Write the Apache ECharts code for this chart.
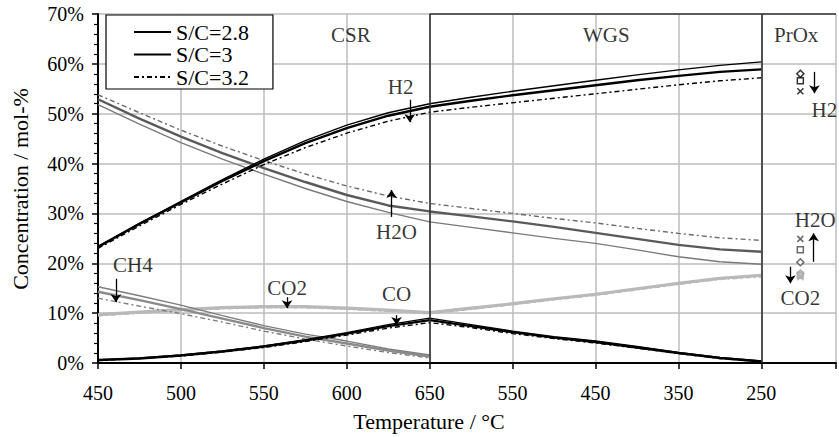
<!DOCTYPE html>
<html><head><meta charset="utf-8">
<script src="https://cdn.jsdelivr.net/npm/echarts@6/dist/echarts.min.js"></script>
<style>html,body{margin:0;padding:0;background:#fff}#c{width:839px;height:437px}</style>
</head><body><div id="c"></div>
<script>
// ---- data ----
const csrTemps = [450, 475, 500, 525, 550, 575, 600, 625, 650];
const wgsTemps = [650, 600, 550, 500, 450, 400, 350, 300, 250];
const tickLabels = ['450', '500', '550', '600', '650', '550', '450', '350', '250'];
const yTicks = [0, 10, 20, 30, 40, 50, 60, 70];
const ratios = ['S/C=2.8', 'S/C=3', 'S/C=3.2'];

const h2_csr = [
  [23.3, 28.0, 32.4, 36.8, 40.9, 44.6, 47.7, 50.2, 52.0],
  [23.3, 27.9, 32.2, 36.5, 40.5, 44.1, 47.1, 49.6, 51.4],
  [23.0, 27.5, 31.8, 35.9, 39.8, 43.2, 46.1, 48.5, 50.3]];
const h2_wgs = [
  [52.0, 53.3, 54.5, 55.6, 56.7, 57.8, 58.8, 59.7, 60.4],
  [51.4, 52.6, 53.7, 54.7, 55.7, 56.7, 57.6, 58.4, 58.9],
  [50.3, 51.3, 52.2, 53.1, 54.0, 54.9, 55.8, 56.6, 57.2]];
const h2o_csr = [
  [51.8, 47.9, 44.2, 40.9, 37.9, 35.0, 32.4, 30.2, 28.3],
  [52.9, 49.0, 45.4, 42.1, 39.1, 36.3, 33.7, 31.6, 30.4],
  [53.8, 50.2, 46.7, 43.5, 40.6, 37.9, 35.5, 33.5, 32.0]];
const h2o_wgs = [
  [28.3, 27.2, 26.1, 25.0, 24.0, 22.7, 21.3, 20.3, 19.8],
  [30.4, 29.4, 28.4, 27.3, 26.1, 24.9, 23.7, 22.8, 22.3],
  [32.0, 31.0, 30.0, 29.0, 28.1, 27.0, 26.0, 25.1, 24.6]];
const ch4_csr = [
  [15.3, 13.5, 11.6, 9.5, 7.5, 5.8, 4.4, 2.8, 1.6],
  [14.3, 12.6, 10.8, 8.9, 7.0, 5.3, 3.9, 2.5, 1.3],
  [13.0, 11.4, 9.9, 8.2, 6.4, 4.8, 3.4, 2.1, 1.0]];
const co2_csr = [
  [9.6, 10.1, 10.6, 11.0, 11.2, 11.2, 10.9, 10.5, 10.0],
  [9.7, 10.2, 10.7, 11.1, 11.3, 11.3, 11.0, 10.6, 10.1],
  [9.5, 10.0, 10.5, 10.9, 11.1, 11.1, 10.8, 10.4, 9.9]];
const co2_wgs = [
  [10.0, 10.9, 11.8, 12.8, 13.7, 14.8, 15.9, 16.9, 17.5],
  [10.1, 11.0, 11.9, 12.9, 13.8, 14.9, 16.0, 17.0, 17.6],
  [9.9, 10.8, 11.7, 12.7, 13.6, 14.7, 15.8, 16.8, 17.3]];
const co_csr = [
  [0.6, 1.0, 1.6, 2.4, 3.4, 4.7, 6.1, 7.7, 9.0],
  [0.6, 0.9, 1.5, 2.3, 3.3, 4.5, 5.9, 7.4, 8.6],
  [0.5, 0.9, 1.4, 2.2, 3.1, 4.3, 5.6, 7.0, 8.1]];
const co_wgs = [
  [9.0, 7.7, 6.4, 5.3, 4.4, 3.3, 2.1, 1.1, 0.4],
  [8.6, 7.4, 6.2, 5.1, 4.2, 3.1, 2.0, 1.0, 0.3],
  [8.1, 7.1, 5.9, 4.9, 4.0, 3.0, 1.9, 0.9, 0.3]];
// after PrOx (per S/C 2.8, 3, 3.2)
const proxPos = 8.47;
const prox_h2 = [58.0, 56.6, 54.5];
const prox_h2o = [20.2, 22.7, 24.9];
const prox_co2 = [18.0, 17.6, 17.2];

// ---- annotations (data space) ----
const sectionLabels = [['CSR', 3.05, 65.8], ['WGS', 6.13, 65.8], ['PrOx', 8.42, 65.8]];
const speciesLabels = [['H2', 3.65, 55.4], ['H2O', 3.60, 26.3], ['CH4', 0.42, 19.7], ['CO2', 2.28, 15.0],
  ['CO', 3.60, 13.8], ['H2', 8.76, 50.8], ['H2O', 8.65, 28.7], ['CO2', 8.47, 13.0]];
const arrows = [[3.76, 52.8, 48.3], [3.54, 29.3, 34.7], [0.216, 16.9, 12.2], [2.28, 13.2, 11.0],
  [3.60, 9.6, 7.6], [8.64, 58.4, 54.1], [8.63, 20.3, 26.0], [8.35, 19.3, 16.0]];

// ---- helpers ----
const csrPos = t => (t - 450) / 50;
const wgsPos = t => 4 + (650 - t) / 100;
function join(csr, wgs) {
  const d = csrTemps.map((t, i) => [csrPos(t), csr[i]]);
  if (wgs) wgsTemps.forEach((t, i) => { if (i > 0) d.push([wgsPos(t), wgs[i]]); });
  return d;
}
const FONT = 'Liberation Serif';
const widths = [1.4, 2.4, 1.4];
const types = ['solid', 'solid', [5, 3, 2, 3]];

const series = [];
function addSpecies(label, csr, wgs, colors, wmul) {
  for (let k = 0; k < 3; k++) {
    series.push({
      name: label === 'H2' ? ratios[k] : label + ' ' + ratios[k],
      type: 'line', symbol: 'none', silent: true, animation: false,
      data: join(csr[k], wgs ? wgs[k] : null),
      lineStyle: { color: colors[k], width: widths[k] * (wmul || 1), type: types[k] },
      itemStyle: { color: colors[k] }
    });
  }
}
addSpecies('CO2', co2_csr, co2_wgs, ['#b9b9b9', '#b9b9b9', '#b9b9b9'], 1.3);
addSpecies('CH4', ch4_csr, null, ['#7d7d7d', '#8a8a8a', '#7d7d7d']);
addSpecies('H2O', h2o_csr, h2o_wgs, ['#7a7a7a', '#5a5a5a', '#6a6a6a']);
addSpecies('CO', co_csr, co_wgs, ['#000', '#000', '#000']);
addSpecies('H2', h2_csr, h2_wgs, ['#000', '#000', '#000']);

// PrOx markers
const symbols = ['diamond', 'rect', 'path://M0,0L10,10M10,0L0,10'];
const sizes = [7, 6, 6];
for (let k = 0; k < 3; k++) {
  series.push({
    name: 'PrOx ' + ratios[k], type: 'scatter', silent: true, animation: false,
    symbol: symbols[k], symbolSize: sizes[k],
    data: [
      { value: [proxPos, prox_h2[k]], itemStyle: { borderColor: '#000' } },
      { value: [proxPos, prox_h2o[k]], itemStyle: { borderColor: '#444' } },
      { value: [proxPos, prox_co2[k]], itemStyle: { borderColor: '#aaa', color: '#bbb' } }
    ],
    itemStyle: { color: k === 2 ? 'none' : '#fff', borderColor: '#000', borderWidth: 1.5 },
    z: 5
  });
}

// dividers, border and arrows
series.push({
  name: 'frame', type: 'line', data: [], silent: true, animation: false,
  markLine: {
    silent: true, animation: false, symbol: 'none', label: { show: false },
    lineStyle: { color: '#333', width: 1.6, type: 'solid' },
    data: [{ xAxis: 4 }, { xAxis: 8 },
      [{ coord: [4, 70] }, { coord: [8.9, 70] }]]
  }
});
series.push({
  name: 'arrows', type: 'line', data: [], silent: true, animation: false,
  markLine: {
    silent: true, animation: false, symbol: ['none', 'arrow'], symbolSize: 8,
    label: { show: false },
    lineStyle: { color: '#000', width: 1.3, type: 'solid' },
    data: arrows.map(a => [{ coord: [a[0], a[1]] }, { coord: [a[0], a[2]] }])
  }
});
// text annotations
series.push({
  name: 'labels', type: 'scatter', silent: true, animation: false,
  symbolSize: 1, itemStyle: { color: 'transparent' },
  label: { show: true, position: 'inside', formatter: p => p.name, color: '#000', fontSize: 21, fontFamily: FONT },
  data: sectionLabels.concat(speciesLabels).map(a => ({ name: a[0], value: [a[1], a[2]] })),
  z: 10
});

const chart = echarts.init(document.getElementById('c'), null, { renderer: 'svg' });
chart.setOption({
  animation: false,
  backgroundColor: '#fff',
  textStyle: { fontFamily: FONT },
  grid: { left: 98, right: 0, top: 14, bottom: 74, containLabel: false },
  legend: {
    data: ratios, orient: 'vertical', left: 106, top: 15,
    backgroundColor: '#fff', borderColor: '#000', borderWidth: 1.2,
    padding: [6, 24, 1, 27], itemGap: 0.5, itemWidth: 37, itemHeight: 14,
    itemStyle: { opacity: 0 },
    textStyle: { fontSize: 22, fontFamily: FONT, color: '#000' },
    selectedMode: false, z: 20
  },
  xAxis: {
    type: 'value', min: 0, max: 8.9, interval: 1,
    axisLine: { lineStyle: { color: '#000', width: 2 } },
    axisTick: { show: true, length: 6, lineStyle: { color: '#000', width: 1.5 } },
    splitLine: { show: true, lineStyle: { color: '#bdbdbd', width: 1.5 } },
    axisLabel: { fontSize: 20, fontFamily: FONT, color: '#000', margin: 20,
      formatter: v => (Number.isInteger(v) && v < tickLabels.length) ? tickLabels[v] : '' }
  },
  yAxis: {
    type: 'value', min: 0, max: 70, interval: 10,
    axisLine: { show: true, lineStyle: { color: '#000', width: 2 } },
    axisTick: { show: true, length: 6, lineStyle: { color: '#000', width: 1.5 } },
    minorTick: { show: true, splitNumber: 5, length: 4, lineStyle: { color: '#000', width: 1.2 } },
    splitLine: { show: true, lineStyle: { color: '#bdbdbd', width: 1.5 } },
    axisLabel: { fontSize: 20, fontFamily: FONT, color: '#000', margin: 14,
      formatter: v => yTicks.includes(v) ? v + '%' : '' }
  },
  graphic: [
    { type: 'text', x: 429, y: 421, style: { text: 'Temperature / °C', align: 'center', verticalAlign: 'middle',
      fontSize: 22, fontFamily: FONT, fill: '#000' } },
    { type: 'text', x: 20, y: 189, rotation: Math.PI / 2, style: { text: 'Concentration / mol-%', align: 'center', verticalAlign: 'middle',
      fontSize: 22, fontFamily: FONT, fill: '#000' } }
  ],
  series: series
});
</script></body></html>
